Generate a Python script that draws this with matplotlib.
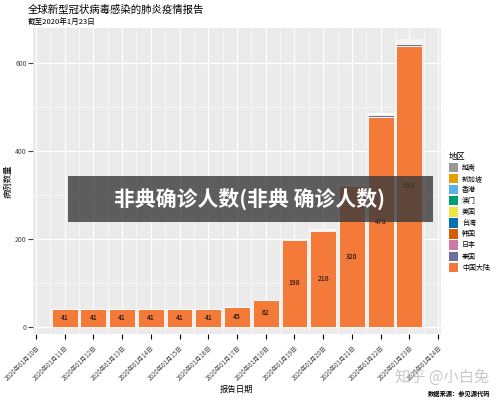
import matplotlib
matplotlib.use("Agg")
import matplotlib.pyplot as plt
import matplotlib.patches as mpatches
import numpy as np

plt.rcParams['font.family'] = ['Noto Sans CJK SC', 'DejaVu Sans']

dates = ["2020年01月%02d日" % d for d in range(10, 25)]
mainland = [41, 41, 41, 41, 41, 41, 45, 62, 198, 218, 320, 478, 639]
regions = ["越南", "新加坡", "香港", "澳门", "美国", "台湾", "韩国", "日本", "泰国", "中国大陆"]
colors = ["#999999", "#E69F00", "#56B4E9", "#009E73", "#F0E442",
          "#0072B2", "#D55E00", "#CC79A7", "#6E6E9E", "#F47A3A"]
# cases outside mainland per region, for the 13 days
thailand = [0]*8 + [2, 2, 2, 4, 4]
japan = [0]*8 + [1, 1, 1, 1, 1]
korea = [0]*9 + [1, 1, 1, 1]
taiwan = [0]*10 + [1, 1, 1]
usa = [0]*11 + [1, 1]
macao = [0]*11 + [1, 2]
hongkong = [0]*12 + [2]
singapore = [0]*12 + [1]
vietnam = [0]*12 + [2]

fig = plt.figure(figsize=(5, 4), dpi=100)
ax = fig.add_axes([0.066, 0.165, 0.816, 0.765])
ax.set_facecolor("#EBEBEB")
x = np.arange(1, 14)
bottom = np.zeros(13)
stack = [(mainland, colors[9]), (thailand, colors[8]), (japan, colors[7]),
         (korea, colors[6]), (taiwan, colors[5]), (usa, colors[4]),
         (macao, colors[3]), (hongkong, colors[2]), (singapore, colors[1]),
         (vietnam, colors[0])]
for vals, c in stack:
    ax.bar(x, vals, bottom=bottom, width=0.9, color=c, edgecolor="white", linewidth=0.6, zorder=3)
    bottom += np.array(vals)
for xi, v in zip(x, mainland):
    ax.text(xi, v / 2, str(v), ha="center", va="center", fontsize=5, zorder=4)

ax.set_xlim(-0.1, 14.1)
ax.set_ylim(-16, 680)
ax.set_xticks(range(0, 15))
ax.set_xticklabels(dates, rotation=45, ha="right", rotation_mode="anchor", fontsize=4.5, color="#444444")
ax.set_yticks([0, 200, 400, 600])
ax.tick_params(axis="y", labelsize=5, colors="#444444", pad=1)
ax.set_yticks([100, 300, 500], minor=True)
ax.set_xticks(np.arange(0.5, 14, 1), minor=True)
ax.tick_params(which="minor", length=0)
ax.grid(True, which="major", color="white", linewidth=0.8, zorder=0)
ax.grid(True, which="minor", color="white", linewidth=0.4, zorder=0)
for s in ax.spines.values():
    s.set_visible(False)
ax.set_xlabel("报告日期", fontsize=6, labelpad=2)
ax.set_ylabel("病例数量", fontsize=6, labelpad=2)

fig.text(0.056, 0.975, "全球新型冠状病毒感染的肺炎疫情报告", fontsize=7.5, va="center")
fig.text(0.056, 0.945, "截至2020年1月23日", fontsize=5.5, va="center")
fig.text(0.98, 0.01, "数据来源：参见源代码", fontsize=4.5, ha="right", fontweight="bold")
fig.text(0.79, 0.045, "知乎 @小白兔", fontsize=11, color="#BBBBBB", alpha=0.8)

handles = [mpatches.Patch(facecolor=c, label=r) for r, c in zip(regions, colors)]
leg = fig.legend(handles=handles, title="地区", loc="center left", bbox_to_anchor=(0.885, 0.47),
                 fontsize=5, title_fontsize=6, frameon=False, handlelength=1.3, handleheight=1.7,
                 labelspacing=0.25, handletextpad=0.6)
leg._legend_box.align = "left"

fig.patches.append(mpatches.Rectangle((0.135, 0.445), 0.73, 0.115, transform=fig.transFigure,
                                      facecolor="#3a3a3a", alpha=0.8, zorder=10))
fig.text(0.5, 0.502, "非典确诊人数(非典 确诊人数)", fontsize=15, color="white", fontweight="bold",
         ha="center", va="center", zorder=11)

fig.savefig("out.png", dpi=100)
